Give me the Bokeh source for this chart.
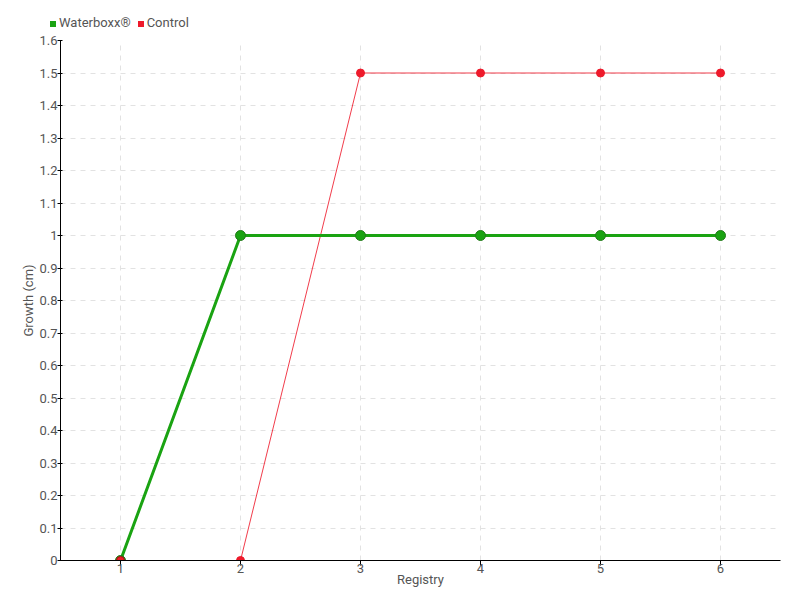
from bokeh.plotting import figure
from bokeh.models import FixedTicker, ColumnDataSource, Range1d, Div
from bokeh.layouts import column
from bokeh.embed import file_html
from bokeh.resources import INLINE

registry = [1, 2, 3, 4, 5, 6]
waterboxx = [0, 1.0, 1.0, 1.0, 1.0, 1.0]
control = [0, 0, 1.5, 1.5, 1.5, 1.5]
y_ticks = [0, 0.1, 0.2, 0.3, 0.4, 0.5, 0.6, 0.7, 0.8, 0.9, 1.0, 1.1, 1.2, 1.3, 1.4, 1.5, 1.6]
y_labels = ["0", "0.1", "0.2", "0.3", "0.4", "0.5", "0.6", "0.7", "0.8", "0.9", "1", "1.1", "1.2", "1.3", "1.4", "1.5", "1.6"]
series_names = ["Waterboxx®", "Control"]

FONT = "Roboto"
TXT = "#555555"
GREEN = "#1aa312"
RED = "#ee1a2b"

p = figure(width=792, height=560,
           output_backend="svg", toolbar_location=None,
           x_range=Range1d(0.5, 6.5), y_range=Range1d(0, 1.6),
           min_border_left=60, min_border_top=8, min_border_right=12, min_border_bottom=32)
p.outline_line_color = None

src = ColumnDataSource(dict(x=registry, w=waterboxx, c=control))

p.line("x", "c", source=src, line_color=RED, line_width=1, line_alpha=0.85)
p.scatter("x", "c", source=src, size=8, fill_color=RED, line_color=RED)
p.line("x", "w", source=src, line_color=GREEN, line_width=3)
p.scatter("x", "w", source=src, size=10, fill_color=GREEN, line_color="#227a1a", line_width=1)
p.scatter(x=[registry[0]], y=[control[0]], size=8, fill_color=RED, line_color="#aa1111")

p.xaxis.ticker = FixedTicker(ticks=registry)
p.yaxis.ticker = FixedTicker(ticks=y_ticks)
p.yaxis.major_label_overrides = {t: l for t, l in zip(y_ticks, y_labels)}
p.xaxis.axis_label = "Registry"
p.yaxis.axis_label = "Growth (cm)"
for ax in (p.xaxis, p.yaxis):
    ax.axis_label_text_font = FONT
    ax.axis_label_text_font_size = "13px"
    ax.axis_label_text_font_style = "normal"
    ax.axis_label_text_color = TXT
    ax.major_label_text_font = FONT
    ax.major_label_text_font_size = "13px"
    ax.major_label_text_color = TXT
    ax.axis_line_color = "black"
    ax.major_tick_line_color = "black"
    ax.minor_tick_line_color = None
p.xaxis.major_tick_in = 0
p.xaxis.major_tick_out = 5
p.xaxis.major_label_standoff = -2
p.xaxis.axis_label_standoff = -4
p.yaxis.major_tick_in = 2
p.yaxis.major_tick_out = 3
p.yaxis.major_label_standoff = 0
p.yaxis.axis_label_standoff = 0

p.grid.grid_line_color = "#e2e2e2"
p.grid.grid_line_dash = "5 5"
p.grid.grid_line_width = 1

sq = "display:inline-block;width:6px;height:6px;margin-right:3px;vertical-align:middle;background:{}"
legend_html = (
    f"<span style='{sq.format(GREEN)}'></span>{series_names[0]}"
    f"<span style='{sq.format(RED)};margin-left:7px'></span>{series_names[1]}"
)
div = Div(text=legend_html, width=792, height=32, margin=(0, 0, 0, 0),
          styles={"font-family": FONT, "font-size": "13px", "color": TXT,
                  "padding-top": "15px", "padding-left": "50px", "box-sizing": "border-box",
                  "line-height": "16px"})

layout = column(div, p, spacing=0)
open("out.html", "w").write(file_html(layout, INLINE))
